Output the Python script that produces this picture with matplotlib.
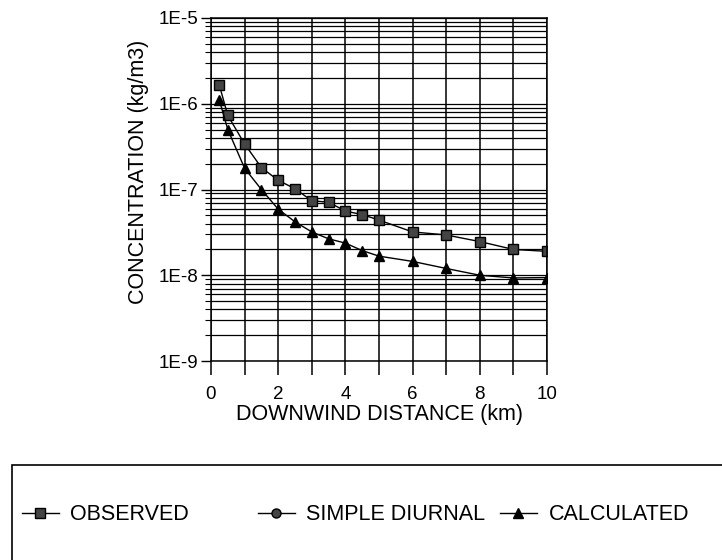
import matplotlib
matplotlib.use("Agg")
from matplotlib import pyplot as plt
from matplotlib.lines import Line2D
from matplotlib.patches import Rectangle
from matplotlib.ticker import LogLocator, FixedLocator, NullFormatter

plt.rcParams['font.family'] = ['Liberation Sans', 'DejaVu Sans']

# data
distance = [0.25, 0.5, 1, 1.5, 2, 2.5, 3, 3.5, 4, 4.5, 5, 6, 7, 8, 9, 10]
observed = [1.64e-6, 7.3e-7, 3.4e-7, 1.8e-7, 1.28e-7, 1.02e-7, 7.4e-8, 7.1e-8,
            5.6e-8, 5.1e-8, 4.4e-8, 3.2e-8, 2.95e-8, 2.47e-8, 2.0e-8, 1.9e-8]
calculated = [1.1e-6, 5.0e-7, 1.77e-7, 1.0e-7, 5.9e-8, 4.2e-8, 3.2e-8, 2.66e-8,
              2.37e-8, 1.94e-8, 1.67e-8, 1.45e-8, 1.2e-8, 1.0e-8, 9.3e-9, 9.4e-9]
simple_diurnal = []  # not visible on the plot, legend only

y_ticks = [1e-9, 1e-8, 1e-7, 1e-6, 1e-5]
y_labels = ['1E-9', '1E-8', '1E-7', '1E-6', '1E-5']
x_ticks = [0, 2, 4, 6, 8, 10]

fig = plt.figure(figsize=(7.22, 5.6), dpi=100)
ax = fig.add_axes([211 / 722, 1 - 361 / 560, 336 / 722, 343 / 560])

ax.set_yscale('log')
ax.set_ylim(1e-9, 1e-5)
ax.set_xlim(0, 10)

# grid: every decade subdivision horizontally, every km vertically
ax.yaxis.set_major_locator(FixedLocator(y_ticks))
ax.yaxis.set_minor_locator(LogLocator(base=10, subs=range(2, 10)))
ax.yaxis.set_minor_formatter(NullFormatter())
ax.set_yticklabels(y_labels)
ax.xaxis.set_major_locator(FixedLocator(x_ticks))
ax.xaxis.set_minor_locator(FixedLocator(range(0, 11)))
ax.grid(True, which='both', axis='y', color='black', linewidth=0.9)
ax.grid(True, which='both', axis='x', color='black', linewidth=1.1)

ax.tick_params(axis='both', which='major', direction='out', width=1,
               labelsize=13.5, colors='black')
ax.tick_params(axis='y', which='major', length=7, pad=2)
ax.tick_params(axis='y', which='minor', direction='out', length=4, width=0.8)
ax.tick_params(axis='x', which='minor', direction='out', length=10, width=1.1)
ax.tick_params(axis='x', which='major', length=10, width=1.1, pad=8)
for s in ax.spines.values():
    s.set_linewidth(1.1)

ax.plot(distance, observed, color='black', linewidth=1, marker='s',
        markersize=7, markerfacecolor='#444444', markeredgecolor='black')
ax.plot(distance, calculated, color='black', linewidth=1, marker='^',
        markersize=7.5, markerfacecolor='black', markeredgecolor='black')

ax.set_ylabel('CONCENTRATION (kg/m3)', fontsize=15.5)
ax.yaxis.set_label_coords(-0.185, 0.551)
ax.set_xlabel('DOWNWIND DISTANCE (km)', fontsize=15.5, labelpad=1)

# legend box that runs off the page
fig.patches.append(Rectangle((12 / 722, -0.1), 1.0, 1 - 465 / 560 + 0.1,
                             transform=fig.transFigure, fill=False,
                             edgecolor='black', linewidth=1.2))

handles = [
    (Line2D([], [], color='black', linewidth=1, marker='s', markersize=7,
            markerfacecolor='#444444', markeredgecolor='black'), 'OBSERVED', 22),
    (Line2D(simple_diurnal, simple_diurnal, color='black', linewidth=1, marker='o',
            markersize=6.5, markerfacecolor='#444444', markeredgecolor='black'),
     'SIMPLE DIURNAL', 258),
    (Line2D([], [], color='black', linewidth=1, marker='^', markersize=7,
            markerfacecolor='black', markeredgecolor='black'), 'CALCULATED', 500),
]
for h, name, xpos in handles:
    fig.legend([h], [name], loc='center left', bbox_to_anchor=(xpos / 722, 1 - 515 / 560),
               frameon=False, fontsize=15.5, handlelength=1.7, handletextpad=0.55,
               borderpad=0, borderaxespad=0)

fig.savefig('out.png', dpi=100)
